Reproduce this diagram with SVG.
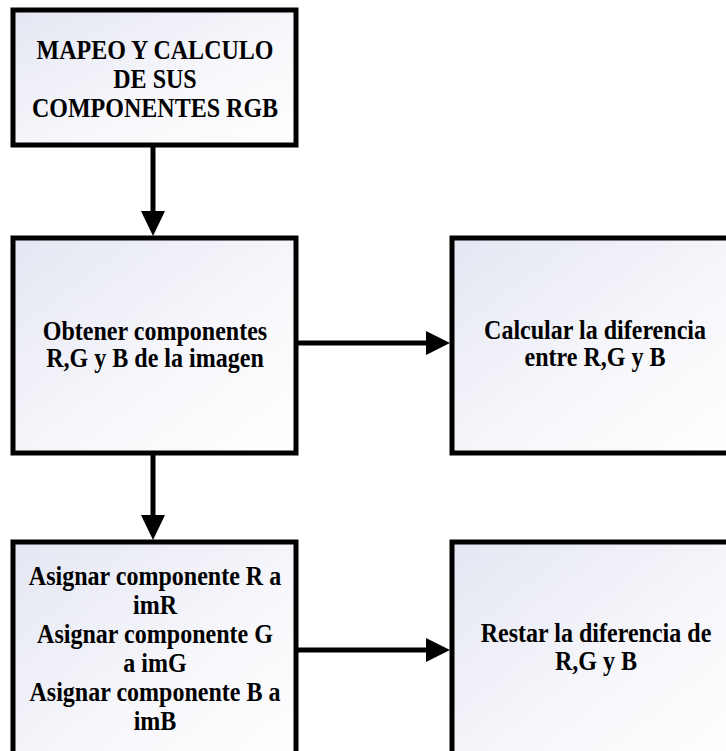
<svg xmlns="http://www.w3.org/2000/svg" width="726" height="751" viewBox="0 0 726 751">
<defs>
<linearGradient id="g" x1="0" y1="0" x2="1" y2="1">
<stop offset="0" stop-color="#e4e6f2"/>
<stop offset="0.6" stop-color="#f8f8fc"/>
<stop offset="1" stop-color="#ffffff"/>
</linearGradient>
<style>
.box{fill:url(#g);stroke:#000;stroke-width:5}
.t{font-family:"Liberation Serif","Times New Roman",serif;font-weight:bold;font-size:27px;fill:#000;text-anchor:middle}
.ln{stroke:#000;stroke-width:5;fill:none}
.hd{fill:#000}
</style>
</defs>
<rect width="726" height="751" fill="#fff"/>
<g id="n1">
<rect class="box" x="13" y="10" width="283" height="135"/>
<g transform="translate(155 0) scale(0.89 1)">
<text class="t" x="0" y="59">MAPEO Y CALCULO</text>
<text class="t" x="0" y="88">DE SUS</text>
<text class="t" x="0" y="117">COMPONENTES RGB</text>
</g>
</g>
<g id="n2">
<rect class="box" x="13" y="238" width="283" height="215"/>
<g transform="translate(155 0) scale(0.89 1)">
<text class="t" x="0" y="340">Obtener componentes</text>
<text class="t" x="0" y="367">R,G y B de la imagen</text>
</g>
</g>
<g id="n3">
<rect class="box" x="452" y="238" width="290" height="215"/>
<g transform="translate(595 0) scale(0.89 1)">
<text class="t" x="0" y="339">Calcular la diferencia</text>
<text class="t" x="0" y="366">entre R,G y B</text>
</g>
</g>
<g id="n4">
<rect class="box" x="13" y="542" width="283" height="230"/>
<g transform="translate(155 0) scale(0.89 1)">
<text class="t" x="0" y="585">Asignar componente R a</text>
<text class="t" x="0" y="614">imR</text>
<text class="t" x="0" y="643">Asignar componente G</text>
<text class="t" x="0" y="672">a imG</text>
<text class="t" x="0" y="701">Asignar componente B a</text>
<text class="t" x="0" y="730">imB</text>
</g>
</g>
<g id="n5">
<rect class="box" x="452" y="542" width="290" height="230"/>
<g transform="translate(596 0) scale(0.89 1)">
<text class="t" x="0" y="642">Restar la diferencia de</text>
<text class="t" x="0" y="670">R,G y B</text>
</g>
</g>
<g id="connectors">
<line class="ln" x1="153" y1="147" x2="153" y2="213"/>
<polygon class="hd" points="141,211 165,211 153,236"/>
<line class="ln" x1="153" y1="455" x2="153" y2="517"/>
<polygon class="hd" points="141,515 165,515 153,540"/>
<line class="ln" x1="298" y1="343" x2="428" y2="343"/>
<polygon class="hd" points="426,331 426,355 450,343"/>
<line class="ln" x1="298" y1="650" x2="428" y2="650"/>
<polygon class="hd" points="426,638 426,662 450,650"/>
</g>
</svg>
